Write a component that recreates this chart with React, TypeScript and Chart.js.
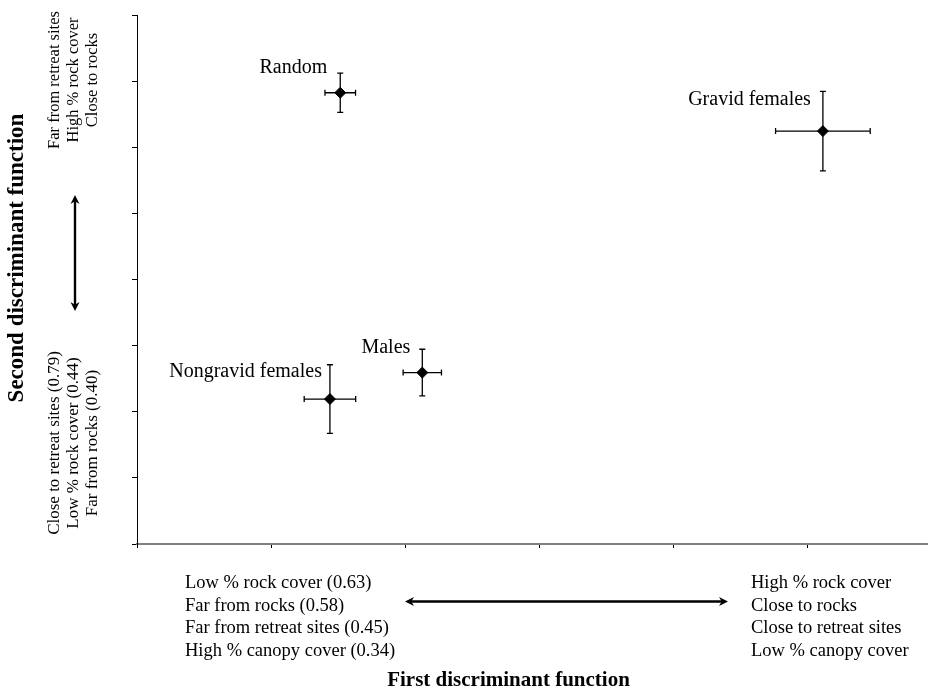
import React, { useEffect, useRef } from "react";
import { Chart, registerables } from "chart.js";

Chart.register(...registerables);

// ---- data ----
const categories = ["Random", "Gravid females", "Nongravid females", "Males"];
const xValues = [1.516, 5.116, 1.439, 2.128];
const yValues = [6.824, 6.244, 2.192, 2.592];
const xErrors = [0.114, 0.353, 0.192, 0.143];
const yErrors = [0.298, 0.602, 0.519, 0.353];
// label offsets (px) from each point: right edge / baseline
const labelOffsets = [
  [-13, -20],
  [-12, -26],
  [-8, -22],
  [-12, -20],
];

const xTickValues = [0, 1, 2, 3, 4, 5];
const yTickValues = [0, 1, 2, 3, 4, 5, 6, 7, 8];
const xMin = 0;
const xMax = 5.9;
const yMin = 0;
const yMax = 8;

const xTitle = "First discriminant function";
const yTitle = "Second discriminant function";
const xLowLines = [
  "Low % rock cover (0.63)",
  "Far from rocks (0.58)",
  "Far from retreat sites (0.45)",
  "High % canopy cover (0.34)",
];
const xHighLines = [
  "High % rock cover",
  "Close to rocks",
  "Close to retreat sites",
  "Low % canopy cover",
];
const yHighLines = ["Far from retreat sites", "High % rock cover", "Close to rocks"];
const yLowLines = [
  "Close to retreat sites (0.79)",
  "Low % rock cover (0.44)",
  "Far from rocks (0.40)",
];

const SERIF = '"Liberation Serif", "Times New Roman", serif';

function arrowHead(ctx: CanvasRenderingContext2D, x: number, y: number, dx: number, dy: number) {
  const len = 9;
  const half = 4.5;
  const px = -dy;
  const py = dx;
  ctx.beginPath();
  ctx.moveTo(x, y);
  ctx.lineTo(x - dx * len + px * half, y - dy * len + py * half);
  ctx.lineTo(x - dx * len * 0.7, y - dy * len * 0.7);
  ctx.lineTo(x - dx * len - px * half, y - dy * len - py * half);
  ctx.closePath();
  ctx.fill();
}

const errorBarPlugin = {
  id: "errorBars",
  beforeDatasetsDraw(chart: any) {
    const ctx = chart.ctx as CanvasRenderingContext2D;
    const xs = chart.scales.x;
    const ys = chart.scales.y;
    ctx.save();
    ctx.strokeStyle = "#000";
    ctx.lineWidth = 1.3;
    const cap = 3;
    for (let i = 0; i < xValues.length; i++) {
      const cx = xs.getPixelForValue(xValues[i]);
      const cy = ys.getPixelForValue(yValues[i]);
      const x1 = xs.getPixelForValue(xValues[i] - xErrors[i]);
      const x2 = xs.getPixelForValue(xValues[i] + xErrors[i]);
      const y1 = ys.getPixelForValue(yValues[i] + yErrors[i]);
      const y2 = ys.getPixelForValue(yValues[i] - yErrors[i]);
      ctx.beginPath();
      ctx.moveTo(x1, cy);
      ctx.lineTo(x2, cy);
      ctx.moveTo(x1, cy - cap);
      ctx.lineTo(x1, cy + cap);
      ctx.moveTo(x2, cy - cap);
      ctx.lineTo(x2, cy + cap);
      ctx.moveTo(cx, y1);
      ctx.lineTo(cx, y2);
      ctx.moveTo(cx - cap, y1);
      ctx.lineTo(cx + cap, y1);
      ctx.moveTo(cx - cap, y2);
      ctx.lineTo(cx + cap, y2);
      ctx.stroke();
    }
    ctx.restore();
  },
};

const annotationPlugin = {
  id: "annotations",
  afterDraw(chart: any) {
    const ctx = chart.ctx as CanvasRenderingContext2D;
    const xs = chart.scales.x;
    const ys = chart.scales.y;
    ctx.save();
    ctx.fillStyle = "#000";
    ctx.strokeStyle = "#000";

    // point labels
    ctx.font = `20px ${SERIF}`;
    ctx.textAlign = "right";
    ctx.textBaseline = "alphabetic";
    for (let i = 0; i < categories.length; i++) {
      const px = xs.getPixelForValue(xValues[i]);
      const py = ys.getPixelForValue(yValues[i]);
      ctx.fillText(categories[i], px + labelOffsets[i][0], py + labelOffsets[i][1]);
    }

    // bottom descriptor blocks
    ctx.font = `18.5px ${SERIF}`;
    ctx.textAlign = "left";
    const baseY = 588;
    const lineH = 22.5;
    xLowLines.forEach((t, i) => ctx.fillText(t, 185, baseY + i * lineH));
    xHighLines.forEach((t, i) => ctx.fillText(t, 751, baseY + i * lineH));

    // horizontal arrow
    ctx.lineWidth = 2.4;
    ctx.beginPath();
    ctx.moveTo(410, 601.5);
    ctx.lineTo(723, 601.5);
    ctx.stroke();
    arrowHead(ctx, 405, 601.5, -1, 0);
    arrowHead(ctx, 728, 601.5, 1, 0);

    // x title
    ctx.font = `bold 21px ${SERIF}`;
    ctx.textAlign = "center";
    ctx.fillText(xTitle, 508.5, 686);

    // vertical arrow
    ctx.beginPath();
    ctx.moveTo(75, 200);
    ctx.lineTo(75, 306);
    ctx.stroke();
    arrowHead(ctx, 75, 195, 0, -1);
    arrowHead(ctx, 75, 311, 0, 1);

    // rotated texts
    const vText = (t: string, x: number, y: number, font: string) => {
      ctx.save();
      ctx.translate(x, y);
      ctx.rotate(-Math.PI / 2);
      ctx.font = font;
      ctx.textAlign = "center";
      ctx.textBaseline = "middle";
      ctx.fillText(t, 0, 0);
      ctx.restore();
    };
    vText(yTitle, 17, 258, `bold 23px ${SERIF}`);
    const cols = [55, 74, 93];
    yHighLines.forEach((t, i) => vText(t, cols[i], 80, `16.5px ${SERIF}`));
    yLowLines.forEach((t, i) => vText(t, cols[i], 443, `17px ${SERIF}`));

    ctx.restore();
  },
};

export default function App() {
  const canvasRef = useRef<HTMLCanvasElement | null>(null);

  useEffect(() => {
    if (!canvasRef.current) return;
    const chart = new Chart(canvasRef.current, {
      type: "scatter",
      data: {
        datasets: [
          {
            label: "Groups",
            data: xValues.map((x, i) => ({ x, y: yValues[i] })),
            pointStyle: "rectRot",
            pointRadius: 5.5,
            pointHoverRadius: 5.5,
            backgroundColor: "#000",
            borderColor: "#000",
            borderWidth: 1,
          },
        ],
      },
      options: {
        animation: false,
        responsive: false,
        devicePixelRatio: 1,
        layout: { autoPadding: false, padding: { left: 132, right: 0, top: 15, bottom: 143 } },
        plugins: {
          legend: { display: false },
          tooltip: { enabled: false },
        },
        events: [],
        scales: {
          x: {
            type: "linear",
            min: xMin,
            max: xMax,
            afterBuildTicks: (scale: any) => {
              scale.ticks = xTickValues.map((v) => ({ value: v }));
            },
            ticks: { display: false, includeBounds: false },
            grid: {
              drawOnChartArea: false,
              drawTicks: true,
              tickLength: 4,
              tickColor: "#000",
              tickWidth: 1,
            },
            border: { display: true, color: "#808080", width: 2 },
          },
          y: {
            type: "linear",
            min: yMin,
            max: yMax,
            afterBuildTicks: (scale: any) => {
              scale.ticks = yTickValues.map((v) => ({ value: v }));
            },
            ticks: { display: false, includeBounds: false },
            grid: {
              drawOnChartArea: false,
              drawTicks: true,
              tickLength: 5,
              tickColor: "#000",
              tickWidth: 1,
            },
            border: { display: true, color: "#000", width: 1 },
          },
        },
      },
      plugins: [errorBarPlugin, annotationPlugin],
    });
    return () => chart.destroy();
  }, []);

  return (
    <div style={{ position: "absolute", left: 0, top: 0, width: 928, height: 691, background: "#fff" }}>
      <canvas ref={canvasRef} width={928} height={691} />
    </div>
  );
}
